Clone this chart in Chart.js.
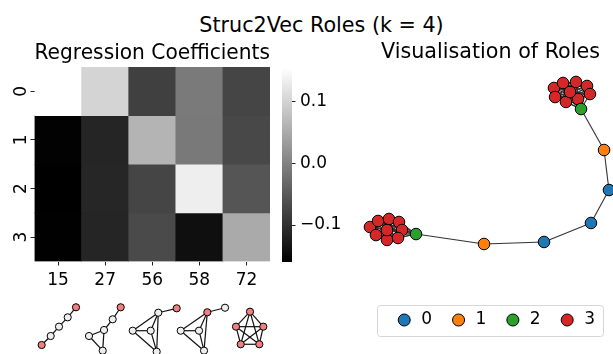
<!DOCTYPE html>
<html>
<head>
<meta charset="utf-8">
<script src="https://cdn.jsdelivr.net/npm/chart.js@4"></script>
<style>
  body { margin: 0; background: #fff; }
  #page { position: relative; width: 613px; height: 354px; overflow: hidden; font-family: 'DejaVu Sans', sans-serif; }
  #page canvas { position: absolute; }
  #suptitle { position: absolute; left: 30px; width: 583px; top: 13px; line-height: 24px; font-size: 20.7px; text-align: center; color: #000; }
</style>
</head>
<body>
<div id="page">
  <div id="suptitle">Struc2Vec Roles (k = 4)</div>
  <canvas id="heatmap" width="304" height="270" style="left:0;top:30px"></canvas>
  <canvas id="colorbar" width="80" height="270" style="left:270px;top:30px"></canvas>
  <canvas id="network" width="273" height="324" style="left:340px;top:30px"></canvas>
  <canvas id="motifs" width="304" height="64" style="left:0;top:290px"></canvas>
</div>
<script>
// Regression coefficients: one row per struc2vec role, one column per motif
const roles = ['0', '1', '2', '3'];
const motifIds = ['15', '27', '56', '58', '72'];
const coefRole0 = [0.155, 0.102, -0.081, -0.009, -0.075];
const coefRole1 = [-0.158, -0.114, 0.062, -0.011, -0.071];
const coefRole2 = [-0.160, -0.113, -0.075, 0.134, -0.055];
const coefRole3 = [-0.159, -0.114, -0.069, -0.141, 0.050];
const colorbarTicks = [-0.1, 0, 0.1];

// Barbell graph (two 10-cliques joined by a 5-node path), layout positions
const nodeX = [0.518, 0.592, 0.698, 0.788, 0.812, 0.714, 0.616, 0.527, 0.649, 0.739,
               0.927, 0.967, 0.820, 0.437, -0.053,
               -0.608, -0.984, -0.918, -0.829, -0.747, -0.722, -0.755, -0.845, -0.935, -0.845];
const nodeY = [0.839, 0.884, 0.893, 0.857, 0.785, 0.741, 0.714, 0.758, 0.803, 0.651,
               0.284, -0.074, -0.369, -0.539, -0.557,
               -0.468, -0.405, -0.351, -0.333, -0.360, -0.432, -0.503, -0.521, -0.477, -0.432];
const nodeRole = [3, 3, 3, 3, 3, 3, 3, 3, 3, 2,
                  1, 0, 0, 0, 1,
                  2, 3, 3, 3, 3, 3, 3, 3, 3, 3];
const cliques = [[0, 1, 2, 3, 4, 5, 6, 7, 8, 9], [15, 16, 17, 18, 19, 20, 21, 22, 23, 24]];
const pathChain = [9, 10, 11, 12, 13, 14, 15];
const roleColors = ['#1f77b4', '#ff7f0e', '#2ca02c', '#d62728'];

// Motif sketches under the heatmap (offset from column centre, height 0..1)
const motifNodeX = [
  [-0.348, -0.156, 0.020, 0.205, 0.381],
  [0.330, 0.160, -0.024, -0.343, -0.052],
  [0.519, 0.128, -0.415, -0.033, 0.094],
  [0.169, 0.545, -0.396, -0.007, 0.099],
  [0.075, -0.222, 0.358, -0.122, 0.273]
];
const motifNodeY = [
  [0.141, 0.281, 0.427, 0.573, 0.730],
  [0.730, 0.542, 0.375, 0.281, 0.052],
  [0.714, 0.645, 0.364, 0.364, 0.036],
  [0.652, 0.723, 0.364, 0.364, 0.052],
  [0.661, 0.427, 0.427, 0.152, 0.152]
];
const motifMarked = [
  [1, 0, 0, 0, 1],
  [1, 0, 0, 0, 0],
  [1, 0, 0, 0, 0],
  [1, 0, 0, 0, 0],
  [1, 1, 1, 1, 1]
];
const motifEdges = [
  [[0, 1], [1, 2], [2, 3], [3, 4]],
  [[0, 1], [1, 2], [2, 3], [2, 4], [3, 4]],
  [[0, 1], [1, 2], [1, 3], [1, 4], [2, 3], [2, 4], [3, 4]],
  [[0, 1], [0, 2], [0, 3], [0, 4], [2, 3], [2, 4], [3, 4]],
  [[0, 1], [0, 2], [0, 3], [0, 4], [1, 2], [1, 3], [1, 4], [2, 3], [2, 4], [3, 4]]
];

Chart.defaults.font.family = "'DejaVu Sans', sans-serif";
Chart.defaults.color = '#000';
Chart.defaults.animation = false;
Chart.defaults.responsive = false;
Chart.defaults.plugins.tooltip.enabled = false;

const coefRows = [coefRole0, coefRole1, coefRole2, coefRole3];
const vmin = Math.min(...coefRows.flat());
const vmax = Math.max(...coefRows.flat());

// matplotlib 'gray' colormap
function grayFor(v) {
    const g = Math.round(255 * (v - vmin) / (vmax - vmin));
    return `rgb(${g},${g},${g})`;
}

function fmtTick(v) {
    return (v < 0 ? '\u2212' : '') + Math.abs(v).toFixed(1);
}

// Heatmap: floating bars, one dataset per role row
new Chart(document.getElementById('heatmap'), {
    type: 'bar',
    data: {
        labels: motifIds,
        datasets: coefRows.map((row, i) => ({
            label: roles[i],
            data: row.map(() => [i - 0.5, i + 0.5]),
            backgroundColor: row.map(grayFor),
            borderWidth: 0,
            categoryPercentage: 1,
            barPercentage: 1,
            grouped: false
        }))
    },
    options: {
        layout: { padding: { right: 34 }, autoPadding: false },
        plugins: {
            legend: { display: false },
            title: {
                display: true,
                fullSize: false,
                text: 'Regression Coefficients',
                font: { size: 20.7, weight: 'normal' },
                padding: { top: 11, bottom: 1.16 }
            }
        },
        scales: {
            x: {
                grid: { offset: false, drawOnChartArea: false, tickLength: 4, color: '#222' },
                border: { display: false },
                ticks: { font: { size: 17 }, padding: 5 },
                afterFit: s => { s.height = 38.5; }
            },
            y: {
                min: -0.5,
                max: 3.5,
                reverse: true,
                afterBuildTicks: s => { s.ticks = roles.map((r, i) => ({ value: i })); },
                ticks: {
                    callback: v => roles[v],
                    minRotation: 90,
                    maxRotation: 90,
                    crossAlign: 'center',
                    padding: 4,
                    font: { size: 17 }
                },
                grid: { drawOnChartArea: false, tickLength: 4, color: '#222' },
                border: { display: false },
                afterFit: s => { s.width = 34.5; }
            }
        }
    }
});

// Colorbar
new Chart(document.getElementById('colorbar'), {
    type: 'bar',
    data: {
        labels: [''],
        datasets: [{
            data: [[vmin, vmax]],
            backgroundColor: ctx => {
                const area = ctx.chart.chartArea;
                if (!area) return '#888';
                const g = ctx.chart.ctx.createLinearGradient(0, area.bottom, 0, area.top);
                g.addColorStop(0, '#000');
                g.addColorStop(1, '#fff');
                return g;
            },
            borderWidth: 0,
            categoryPercentage: 1,
            barPercentage: 1
        }]
    },
    options: {
        layout: { padding: { left: 12, top: 38, bottom: 38 }, autoPadding: false },
        plugins: { legend: { display: false } },
        scales: {
            x: { display: false },
            y: {
                position: 'right',
                min: vmin,
                max: vmax,
                afterBuildTicks: s => { s.ticks = colorbarTicks.map(v => ({ value: v })); },
                ticks: { callback: fmtTick, padding: 4.5, font: { size: 17 } },
                grid: { drawOnChartArea: false, tickLength: 3.5, color: '#222' },
                border: { display: false },
                afterFit: s => { s.width = 58; }
            }
        }
    }
});

// Network graph: node datasets per role, then one dataset per edge
function edgeDataset(a, b, xs, ys, width, color) {
    return {
        label: '',
        data: [{ x: xs[a], y: ys[a] }, { x: xs[b], y: ys[b] }],
        showLine: true,
        borderColor: color,
        borderWidth: width,
        pointRadius: 0,
        clip: false,
        order: 1
    };
}

const networkEdges = [];
cliques.forEach(members => {
    members.forEach((a, i) => {
        members.slice(i + 1).forEach(b => networkEdges.push([a, b]));
    });
});
pathChain.slice(1).forEach((b, i) => networkEdges.push([pathChain[i], b]));

const legendFrame = {
    id: 'legendFrame',
    afterDraw(chart) {
        const boxes = chart.legend.legendHitBoxes;
        if (!boxes || !boxes.length) return;
        const first = boxes[0];
        const last = boxes[boxes.length - 1];
        const left = first.left - 18.5;
        const right = last.left + last.width + 8;
        const top = first.top - 6.5;
        const bottom = first.top + first.height + 7.5;
        const ctx = chart.ctx;
        ctx.save();
        ctx.strokeStyle = '#d6d6d6';
        ctx.lineWidth = 1;
        ctx.beginPath();
        ctx.roundRect(Math.round(left) + 0.5, Math.round(top) + 0.5, Math.round(right - left), Math.round(bottom - top), 3);
        ctx.stroke();
        ctx.restore();
    }
};

new Chart(document.getElementById('network'), {
    type: 'scatter',
    data: {
        datasets: roles.map((r, k) => ({
            label: r,
            data: nodeRole.map((role, i) => role === k ? { x: nodeX[i], y: nodeY[i] } : null).filter(p => p),
            backgroundColor: roleColors[k],
            borderColor: '#000',
            borderWidth: 1,
            pointRadius: 5.8,
            pointStyle: 'circle',
            clip: false,
            order: 0
        })).concat(networkEdges.map(([a, b]) => edgeDataset(a, b, nodeX, nodeY, 1.1, '#333')))
    },
    options: {
        layout: { padding: { left: 28, bottom: 15.5 }, autoPadding: false },
        plugins: {
            title: {
                display: true,
                text: 'Visualisation of Roles',
                font: { size: 20.7, weight: 'normal' },
                padding: { top: 10.6, bottom: 4.56 }
            },
            legend: {
                position: 'bottom',
                align: 'end',
                labels: {
                    usePointStyle: true,
                    boxWidth: 17,
                    boxHeight: 8.5,
                    padding: 18,
                    font: { size: 17 },
                    filter: item => item.text !== ''
                }
            }
        },
        scales: {
            x: { display: false, min: -1, max: 1 },
            y: { display: false, min: -1, max: 1 }
        }
    },
    plugins: [legendFrame]
});

// Motif sketches, one per heatmap column
const motifDatasets = [];
motifIds.forEach((id, m) => {
    const xs = motifNodeX[m].map(dx => m + dx);
    const ys = motifNodeY[m];
    motifDatasets.push({
        label: id,
        data: xs.map((x, i) => ({ x, y: ys[i] })),
        pointBackgroundColor: motifMarked[m].map(f => f ? '#f08080' : '#eeeeee'),
        pointBorderColor: '#000',
        pointBorderWidth: 1,
        pointRadius: 3.6,
        clip: false,
        order: 0
    });
    motifEdges[m].forEach(([a, b]) => motifDatasets.push(edgeDataset(a, b, xs, ys, 1.2, '#111')));
});

new Chart(document.getElementById('motifs'), {
    type: 'scatter',
    data: { datasets: motifDatasets },
    options: {
        layout: { padding: { left: 34.5, right: 34 }, autoPadding: false },
        plugins: { legend: { display: false } },
        scales: {
            x: { display: false, min: -0.5, max: motifIds.length - 0.5 },
            y: { display: false, min: 0, max: 1 }
        }
    }
});
</script>
</body>
</html>
